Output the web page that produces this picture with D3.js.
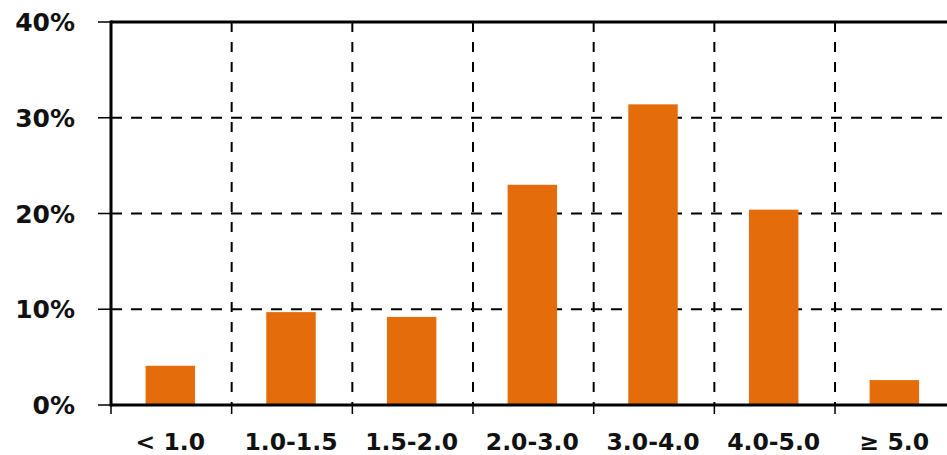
<!DOCTYPE html>
<html><head><meta charset="utf-8">
<script src="https://cdn.jsdelivr.net/npm/d3@7"></script>
<style>body{margin:0;background:#fff}svg{display:block}</style>
</head><body>
<svg id="c" width="947" height="455"></svg>
<script>
const categories = ["< 1.0","1.0-1.5","1.5-2.0","2.0-3.0","3.0-4.0","4.0-5.0","\u2265 5.0"];
const values = [4.1, 9.7, 9.2, 23.0, 31.4, 20.4, 2.6];
const yTicks = [0, 10, 20, 30, 40];
const yTickLabels = ["0%","10%","20%","30%","40%"];

(function(){
const svg = d3.select("#c");
const pl = 111, pt = 22, pb = 405, step = 120.67;
const x = d3.scaleBand().domain(categories).range([pl, pl + step*categories.length]).padding(0);
const y = d3.scaleLinear().domain([0, 40]).range([pb, pt]);
const W = 947;
const font = "'DejaVu Sans', Verdana, sans-serif";

// horizontal grid
svg.append("g").selectAll("line").data(yTicks.filter(d => d > 0 && d < 40)).join("line")
  .attr("x1", pl).attr("x2", W).attr("y1", d => y(d)).attr("y2", d => y(d))
  .attr("stroke", "#000").attr("stroke-width", 2).attr("stroke-dasharray", "11,9");
// vertical grid at category boundaries
const bounds = categories.slice(1).map(c => x(c));
svg.append("g").selectAll("line").data(bounds).join("line")
  .attr("x1", d => d).attr("x2", d => d).attr("y1", pt).attr("y2", pb)
  .attr("stroke", "#000").attr("stroke-width", 2).attr("stroke-dasharray", "10,10");

// bars
const bw = x.bandwidth() * 0.41;
svg.append("g").selectAll("rect").data(values).join("rect")
  .attr("x", (d, i) => x(categories[i]) + x.bandwidth()/2 - bw/2 - 1)
  .attr("width", bw)
  .attr("y", d => y(d)).attr("height", d => y(0) - y(d))
  .attr("fill", "#E46C0A");

// left ticks
svg.append("g").selectAll("line").data(yTicks).join("line")
  .attr("x1", pl - 13).attr("x2", pl).attr("y1", d => y(d)).attr("y2", d => y(d))
  .attr("stroke", "#000").attr("stroke-width", 1.5);
// bottom ticks
svg.append("g").selectAll("line").data([pl].concat(bounds)).join("line")
  .attr("x1", d => d).attr("x2", d => d).attr("y1", pb).attr("y2", pb + 9)
  .attr("stroke", "#000").attr("stroke-width", 1.5);

// axes / border
svg.append("line").attr("x1", pl).attr("x2", pl).attr("y1", pt - 1.5).attr("y2", pb + 1.5)
  .attr("stroke", "#000").attr("stroke-width", 3);
svg.append("line").attr("x1", pl).attr("x2", W).attr("y1", pt).attr("y2", pt)
  .attr("stroke", "#000").attr("stroke-width", 3);
svg.append("line").attr("x1", pl).attr("x2", W).attr("y1", pb).attr("y2", pb)
  .attr("stroke", "#000").attr("stroke-width", 3);

// y labels
svg.append("g").selectAll("text").data(yTicks).join("text")
  .attr("x", 75).attr("y", d => y(d) + 9).attr("text-anchor", "end")
  .attr("font-family", font).attr("font-weight", "bold").attr("font-size", 25)
  .attr("fill", "#111").text((d, i) => yTickLabels[i]);
// x labels
svg.append("g").selectAll("text").data(categories).join("text")
  .attr("x", d => x(d) + x.bandwidth()/2 - 1).attr("y", 450).attr("text-anchor", "middle")
  .attr("font-family", font).attr("font-weight", "bold").attr("font-size", 23.5)
  .attr("fill", "#111").text(d => d);
})();
</script>
</body></html>
